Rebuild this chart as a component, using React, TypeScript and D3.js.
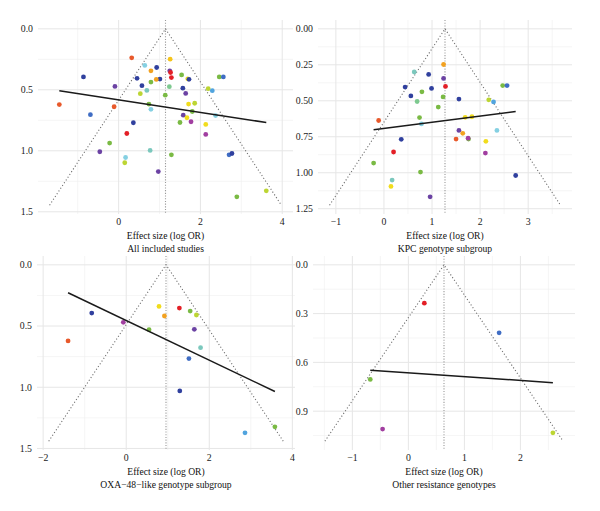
import React, { useRef, useEffect } from "react";
import * as d3 from "d3";

// colours used for the study points
const C = {
  red: "#e31f26",
  orangered: "#e8592b",
  orange: "#f2a11f",
  gold: "#f5c41b",
  yellow: "#f1dc1d",
  yellowgreen: "#bcd533",
  green: "#7aba44",
  mint: "#7dc98f",
  teal: "#7bc8bd",
  cyan: "#85d0e2",
  lightblue: "#51a4de",
  blue: "#3f6dc4",
  navy: "#30409e",
  purple: "#6b42a3",
  magenta: "#a13ea0",
};

// All included studies
const allX = [0.32, 0.64, 0.93, 0.79, 1.26, 1.25, 1.27, 1.29, -0.86, 0.45, 1.01, 0.92, 0.79, 1.54, 1.69, 1.72, 2.46, 2.56, -0.09, 0.57, 0.69, 1.24, 1.57, 2.19, 2.29, 1.64, 0.53, 1.14, -1.45, -0.11, 0.74, 0.79, 1.71, 1.86, 1.8, -0.69, 1.58, 1.67, 2.37, 0.36, 1.5, 1.77, 2.13, 0.2, 2.13, -0.22, -0.46, 0.77, 1.29, 0.17, 0.15, 2.7, 2.77, 0.97, 3.61, 2.89];
const allSe = [0.238, 0.3, 0.317, 0.344, 0.249, 0.344, 0.358, 0.4, 0.394, 0.406, 0.412, 0.415, 0.437, 0.378, 0.41, 0.414, 0.394, 0.394, 0.472, 0.466, 0.505, 0.474, 0.487, 0.491, 0.507, 0.53, 0.532, 0.544, 0.621, 0.639, 0.617, 0.66, 0.617, 0.61, 0.678, 0.704, 0.708, 0.729, 0.711, 0.77, 0.768, 0.762, 0.784, 0.858, 0.866, 0.937, 1.008, 0.997, 1.033, 1.055, 1.098, 1.033, 1.022, 1.17, 1.328, 1.377];
const allColor = ["orangered", "cyan", "navy", "orange", "gold", "purple", "red", "red", "navy", "navy", "navy", "orange", "green", "green", "yellow", "navy", "green", "blue", "purple", "navy", "teal", "mint", "navy", "yellowgreen", "lightblue", "purple", "yellowgreen", "green", "orangered", "orangered", "green", "cyan", "yellow", "yellowgreen", "green", "blue", "purple", "yellow", "cyan", "navy", "green", "magenta", "yellow", "red", "magenta", "green", "purple", "teal", "green", "cyan", "yellowgreen", "blue", "navy", "purple", "yellowgreen", "green"];

// KPC genotype subgroup
const kpcX = [1.24, 0.63, 0.93, 1.24, 1.28, 0.44, 0.99, 0.79, 0.56, 1.23, 1.56, 0.69, 2.47, 2.56, 2.18, 2.28, 1.13, -0.11, 0.74, 1.69, 1.83, 0.78, 1.56, 2.35, 1.64, 1.5, 1.76, 1.75, 0.36, 2.12, 0.2, 2.11, -0.215, 0.76, 2.74, 0.17, 0.146, 0.96];
const kpcSe = [0.248, 0.3, 0.317, 0.345, 0.4, 0.405, 0.414, 0.438, 0.466, 0.473, 0.488, 0.505, 0.394, 0.394, 0.493, 0.508, 0.544, 0.637, 0.617, 0.615, 0.611, 0.661, 0.706, 0.706, 0.726, 0.766, 0.766, 0.76, 0.768, 0.782, 0.856, 0.863, 0.933, 0.995, 1.019, 1.051, 1.095, 1.167];
const kpcColor = ["orange", "teal", "navy", "purple", "red", "navy", "navy", "green", "navy", "green", "navy", "mint", "green", "blue", "yellowgreen", "lightblue", "green", "orangered", "green", "yellow", "yellow", "cyan", "purple", "cyan", "orange", "orangered", "green", "magenta", "navy", "yellow", "red", "magenta", "green", "green", "navy", "teal", "yellow", "purple"];

// OXA-48-like genotype subgroup
const oxaX = [-0.83, -1.4, -0.07, 0.55, 0.79, 0.92, 1.28, 1.54, 1.69, 1.64, 1.79, 1.51, 1.29, 2.86, 3.58];
const oxaSe = [0.394, 0.622, 0.47, 0.53, 0.34, 0.418, 0.353, 0.378, 0.41, 0.527, 0.677, 0.766, 1.03, 1.372, 1.323];
const oxaColor = ["navy", "orangered", "magenta", "green", "yellow", "orange", "red", "green", "yellowgreen", "purple", "teal", "blue", "navy", "lightblue", "green"];

// Other resistance genotypes
const otherX = [0.285, 1.62, -0.68, -0.46, 2.58];
const otherSe = [0.236, 0.418, 0.705, 1.01, 1.033];
const otherColor = ["red", "blue", "green", "magenta", "yellowgreen"];

// pooled estimate and Egger-type fitted line (se = intercept + slope * x)
const pooled = [1.146, 1.27, 0.958, 0.636];
const fitIntercept = [0.5825, 0.692, 0.455, 0.664];
const fitSlope = [0.0514, -0.043, 0.162, 0.0236];

const subtitles = [
  "All included studies",
  "KPC genotype subgroup",
  "OXA\u221248\u2212like genotype subgroup",
  "Other resistance genotypes",
];
const xTickSets = [[0, 2, 4], [-1, 0, 1, 2, 3], [-2, 0, 2, 4], [-1, 0, 1, 2, 3]];
const yTickSets = [
  [0, 0.5, 1, 1.5],
  [0, 0.25, 0.5, 0.75, 1, 1.25],
  [0, 0.5, 1, 1.5],
  [0, 0.3, 0.6, 0.9],
];
const yFormats = [".1f", ".2f", ".1f", ".1f"];

const FONT = "'Liberation Serif', 'DejaVu Serif', serif";

const boxes = [
  { left: 38, right: 293, top: 20, bottom: 214 },
  { left: 318, right: 572, top: 20, bottom: 214 },
  { left: 37, right: 295, top: 256, bottom: 450 },
  { left: 313, right: 575, top: 256, bottom: 450 },
];

const minorOf = (ticks: number[]) => {
  const step = ticks[1] - ticks[0];
  const ext = [ticks[0] - step, ...ticks, ticks[ticks.length - 1] + step];
  return ext.slice(1).map((t, i) => (t + ext[i]) / 2);
};

const App = () => {
  const ref = useRef<SVGSVGElement>(null);

  useEffect(() => {
    const svg = d3.select(ref.current);
    svg.selectAll("*").remove();

    const panels = [
      { x: allX, se: allSe, col: allColor },
      { x: kpcX, se: kpcSe, col: kpcColor },
      { x: oxaX, se: oxaSe, col: oxaColor },
      { x: otherX, se: otherSe, col: otherColor },
    ];

    panels.forEach((p, i) => {
      const b = boxes[i];
      const mu = pooled[i];
      const seMax = (d3.max(p.se) as number) * 1.05;
      const lo = mu - 1.96 * seMax;
      const hi = mu + 1.96 * seMax;
      const padX = 0.05 * (hi - lo);
      const x = d3.scaleLinear().domain([lo - padX, hi + padX]).range([b.left, b.right]);
      const y = d3.scaleLinear().domain([-0.05 * seMax, seMax * 1.05]).range([b.top, b.bottom]);
      const [x0, x1] = x.domain();
      const [y0, y1] = y.domain();
      const inX = (v: number) => v >= x0 && v <= x1;
      const inY = (v: number) => v >= y0 && v <= y1;

      const g = svg.append("g");

      // grid
      const xt = xTickSets[i];
      const yt = yTickSets[i];
      g.selectAll(".vminor")
        .data(minorOf(xt).filter(inX))
        .join("line")
        .attr("x1", (d) => x(d)).attr("x2", (d) => x(d))
        .attr("y1", b.top).attr("y2", b.bottom)
        .attr("stroke", "#efefef").attr("stroke-width", 0.6);
      g.selectAll(".hminor")
        .data(minorOf(yt).filter(inY))
        .join("line")
        .attr("x1", b.left).attr("x2", b.right)
        .attr("y1", (d) => y(d)).attr("y2", (d) => y(d))
        .attr("stroke", "#efefef").attr("stroke-width", 0.6);
      g.selectAll(".vmajor")
        .data(xt.filter(inX))
        .join("line")
        .attr("x1", (d) => x(d)).attr("x2", (d) => x(d))
        .attr("y1", b.top).attr("y2", b.bottom)
        .attr("stroke", "#e6e6e6").attr("stroke-width", 1);
      g.selectAll(".hmajor")
        .data(yt.filter(inY))
        .join("line")
        .attr("x1", b.left).attr("x2", b.right)
        .attr("y1", (d) => y(d)).attr("y2", (d) => y(d))
        .attr("stroke", "#e6e6e6").attr("stroke-width", 1);

      // funnel
      const funnel = d3.line<[number, number]>().x((d) => x(d[0])).y((d) => y(d[1]));
      g.append("path")
        .attr("d", funnel([[lo, seMax], [mu, 0], [hi, seMax]]))
        .attr("fill", "none")
        .attr("stroke", "#6d6d6d")
        .attr("stroke-width", 1.1)
        .attr("stroke-dasharray", "1.1,2.2");
      g.append("line")
        .attr("x1", x(mu)).attr("x2", x(mu))
        .attr("y1", b.top).attr("y2", b.bottom)
        .attr("stroke", "#999")
        .attr("stroke-width", 1.1)
        .attr("stroke-dasharray", "1.1,1.6");

      // points
      g.selectAll("circle")
        .data(p.x.map((v, k) => ({ v, se: p.se[k], c: p.col[k] })))
        .join("circle")
        .attr("cx", (d) => x(d.v))
        .attr("cy", (d) => y(d.se))
        .attr("r", 2.4)
        .attr("fill", (d) => (C as any)[d.c]);

      // fitted line
      const [xa, xb] = d3.extent(p.x) as [number, number];
      g.append("path")
        .attr("d", funnel([[xa, fitIntercept[i] + fitSlope[i] * xa], [xb, fitIntercept[i] + fitSlope[i] * xb]]))
        .attr("stroke", "#1a1a1a")
        .attr("stroke-width", 1.5)
        .attr("fill", "none");

      // axis labels
      const fmt = d3.format(yFormats[i]);
      g.selectAll(".ylab")
        .data(yt.filter(inY))
        .join("text")
        .attr("x", b.left - 5)
        .attr("y", (d) => y(d))
        .attr("dy", "0.35em")
        .attr("text-anchor", "end")
        .attr("font-family", FONT)
        .attr("font-size", 9.8)
        .attr("fill", "#222")
        .text((d) => fmt(d));
      g.selectAll(".xlab")
        .data(xt.filter(inX))
        .join("text")
        .attr("x", (d) => x(d))
        .attr("y", b.bottom + 11)
        .attr("text-anchor", "middle")
        .attr("font-family", FONT)
        .attr("font-size", 9.8)
        .attr("fill", "#222")
        .text((d) => (d < 0 ? "\u2212" + Math.abs(d) : String(d)));

      const cx = (b.left + b.right) / 2;
      g.append("text")
        .attr("x", cx)
        .attr("y", b.bottom + 25)
        .attr("text-anchor", "middle")
        .attr("font-family", FONT)
        .attr("font-size", 9.6)
        .attr("fill", "#111")
        .text("Effect size (log OR)");
      g.append("text")
        .attr("x", cx)
        .attr("y", b.bottom + 37.5)
        .attr("text-anchor", "middle")
        .attr("font-family", FONT)
        .attr("font-size", 9.6)
        .attr("fill", "#111")
        .text(subtitles[i]);
    });
  }, []);

  return (
    <svg
      ref={ref}
      width={600}
      height={511}
      style={{ position: "absolute", left: 0, top: 0, background: "#fff" }}
    ></svg>
  );
};

export default App;
